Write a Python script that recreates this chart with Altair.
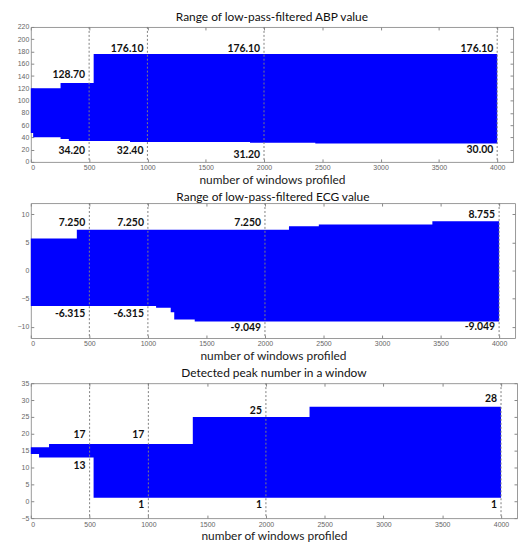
import altair as alt
import pandas as pd

# ---------------- data ----------------
x_ticks = [0, 500, 1000, 1500, 2000, 2500, 3000, 3500, 4000]
rule_x = [500, 1000, 2000, 4000]

# ABP range (step boundaries)
abp_x = [0, 20, 255, 326, 539, 851, 1880, 2440, 4000]
abp_hi = [120, 120, 128.7, 128.7, 176.1, 176.1, 176.1, 176.1, 176.1]
abp_lo = [47, 40, 37.5, 34.2, 34.2, 32.4, 31.2, 30.0, 30.0]
abp_lab_x = [500, 500, 1000, 1000, 2000, 2000, 4000, 4000]
abp_lab_y = [142, 18, 184, 18, 184, 12, 184, 20]
abp_lab_t = ["128.70", "34.20", "176.10", "32.40", "176.10", "31.20", "176.10", "30.00"]
abp_yticks = [0, 20, 40, 60, 80, 100, 120, 140, 160, 180, 200, 220]

# ECG range
ecg_x = [0, 393, 1070, 1195, 1225, 1400, 2205, 2460, 3430, 4000]
ecg_hi = [5.7, 7.25, 7.25, 7.25, 7.25, 7.25, 7.9, 8.2, 8.755, 8.755]
ecg_lo = [-6.315, -6.315, -6.6, -7.4, -8.7, -9.049, -9.049, -9.049, -9.049, -9.049]
ecg_lab_x = [500, 500, 1000, 1000, 2000, 2000, 4000, 4000]
ecg_lab_y = [8.5, -7.8, 8.5, -7.8, 8.5, -10.3, 9.8, -10.1]
ecg_lab_t = ["7.250", "-6.315", "7.250", "-6.315", "7.250", "-9.049", "8.755", "-9.049"]
ecg_yticks = [-10, -5, 0, 5, 10]

# Peak numbers
pk_x = [0, 70, 155, 534, 1378, 2371, 4000]
pk_hi = [16, 16, 17, 17, 25, 28, 28]
pk_lo = [14, 13, 13, 1, 1, 1, 1]
pk_lab_x = [500, 500, 1000, 1000, 2000, 2000, 4000, 4000]
pk_lab_y = [19.5, 10.3, 19.5, -1, 26.8, -1, 30.2, -1]
pk_lab_t = ["17", "13", "17", "1", "25", "1", "28", "1"]
pk_yticks = [-5, 0, 5, 10, 15, 20, 25, 30, 35]

TICK_FONT = "Liberation Sans"
TEXT_FONT = "Lato"
X_MAX = 4136


def tick_axis(orient, values, labels=True, title=None):
    kw = dict(orient=orient, values=values, offset=-3, tickSize=3, domain=False,
              grid=False, tickColor="#888", labels=labels, format="d")
    if labels:
        kw.update(labelFontSize=7, labelColor="#666", labelFont=TICK_FONT, labelPadding=2)
    else:
        kw.update(minExtent=0, maxExtent=0)
    if title:
        kw.update(title=title, titleFontSize=12, titleFont=TEXT_FONT,
                  titleFontWeight="normal", titleColor="#222", titlePadding=4)
    else:
        kw.update(title=None)
    return alt.Axis(**kw)


def panel(title, xs, his, los, lx, ly, lt, ydomain, yticks, width):
    df = pd.DataFrame({"x": xs, "hi": his, "lo": los})
    lab = pd.DataFrame({"x": lx, "y": ly, "t": lt})
    xsc = alt.Scale(domain=[0, X_MAX], nice=False, zero=False)
    ysc = alt.Scale(domain=ydomain, nice=False, zero=False)

    area = alt.Chart(df).mark_area(interpolate="step-after", color="#0000ff", opacity=1).encode(
        x=alt.X("x:Q", scale=xsc, axis=tick_axis("bottom", x_ticks, title="number of windows profiled")),
        y=alt.Y("hi:Q", scale=ysc, axis=tick_axis("left", yticks)),
        y2="lo:Q",
    )
    rules = alt.Chart(pd.DataFrame({"x": rule_x})).mark_rule(
        color="#808080", strokeDash=[2, 2], strokeWidth=1
    ).encode(x=alt.X("x:Q", scale=xsc, axis=None))
    text = alt.Chart(lab).mark_text(
        align="right", dx=-4, baseline="middle", font=TEXT_FONT, fontWeight="bold",
        fontSize=10.5, color="#111"
    ).encode(
        x=alt.X("x:Q", scale=xsc, axis=tick_axis("top", x_ticks, labels=False)),
        y=alt.Y("y:Q", scale=ysc, axis=tick_axis("right", yticks, labels=False)),
        text="t:N",
    )
    return alt.layer(area, rules, text).resolve_axis(x="independent", y="independent").properties(
        width=width, height=136,
        title=alt.TitleParams(title, fontSize=12, font=TEXT_FONT, fontWeight="normal",
                              offset=-1, color="#111"),
    )


p1 = panel("Range of low-pass-filtered ABP value", abp_x, abp_hi, abp_lo,
           abp_lab_x, abp_lab_y, abp_lab_t, [0, 220], abp_yticks, 486)
p2 = panel("Range of low-pass-filtered ECG value", ecg_x, ecg_hi, ecg_lo,
           ecg_lab_x, ecg_lab_y, ecg_lab_t, [-12, 12], ecg_yticks, 488)
p3 = panel("Detected peak number in a window", pk_x, pk_hi, pk_lo,
           pk_lab_x, pk_lab_y, pk_lab_t, [-5, 35], pk_yticks, 490)

chart = alt.vconcat(p1, p2, p3, spacing=3.5).configure_view(
    stroke="#999", strokeWidth=1
).properties(padding={"left": 8, "top": 0, "right": 0, "bottom": 0}, background="white")

chart.save("out.html", embed_options={"renderer": "svg", "actions": False})
